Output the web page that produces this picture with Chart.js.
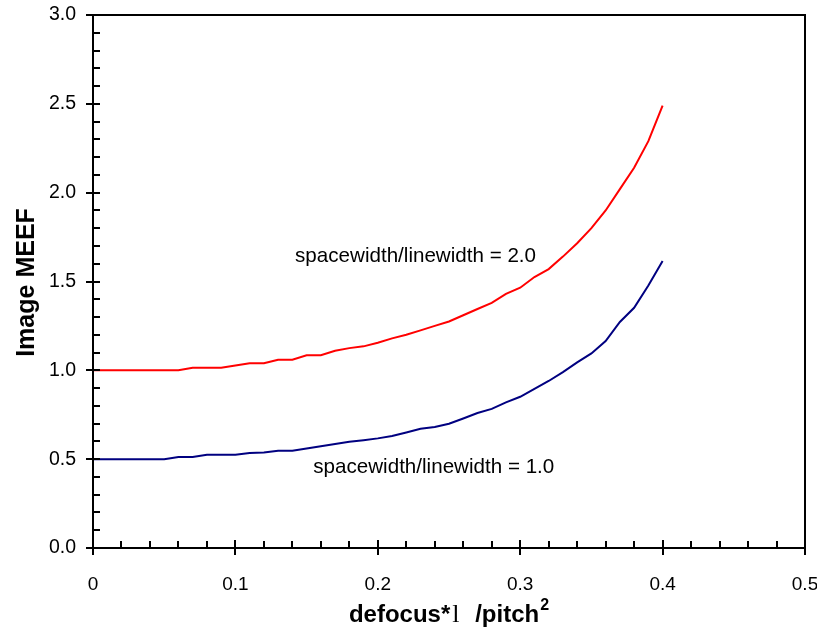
<!DOCTYPE html>
<html>
<head>
<meta charset="utf-8">
<title>Image MEEF vs defocus</title>
<script src="https://cdn.jsdelivr.net/npm/chart.js@4/dist/chart.umd.min.js"></script>
<style>
  html, body { margin: 0; padding: 0; background: #ffffff; }
  #wrap { width: 817px; height: 641px; }
</style>
</head>
<body>
<div id="wrap"><canvas id="chart" width="817" height="641"></canvas></div>
<script>
// defocus*lambda/pitch^2 sample positions
const defocus = [
  0.00, 0.01, 0.02, 0.03, 0.04, 0.05, 0.06, 0.07, 0.08, 0.09,
  0.10, 0.11, 0.12, 0.13, 0.14, 0.15, 0.16, 0.17, 0.18, 0.19,
  0.20, 0.21, 0.22, 0.23, 0.24, 0.25, 0.26, 0.27, 0.28, 0.29,
  0.30, 0.31, 0.32, 0.33, 0.34, 0.35, 0.36, 0.37, 0.38, 0.39, 0.40
];

// image MEEF, spacewidth/linewidth = 2.0
const meefRatio2 = [
  1.00, 1.00, 1.00, 1.00, 1.00, 1.00, 1.00, 1.015, 1.015, 1.015,
  1.027, 1.04, 1.04, 1.06, 1.06, 1.085, 1.085, 1.11, 1.125, 1.135,
  1.155, 1.18, 1.20, 1.225, 1.25, 1.275, 1.31, 1.345, 1.38, 1.43,
  1.465, 1.525, 1.57, 1.64, 1.715, 1.80, 1.90, 2.02, 2.14, 2.29, 2.49
];

// image MEEF, spacewidth/linewidth = 1.0
const meefRatio1 = [
  0.50, 0.50, 0.50, 0.50, 0.50, 0.50, 0.512, 0.512, 0.525, 0.525,
  0.525, 0.535, 0.537, 0.547, 0.547, 0.56, 0.573, 0.585, 0.598, 0.607,
  0.617, 0.63, 0.65, 0.671, 0.681, 0.699, 0.729, 0.76, 0.783, 0.82,
  0.851, 0.895, 0.94, 0.99, 1.045, 1.095, 1.165, 1.272, 1.352, 1.477, 1.615
];

const seriesLabels = ['spacewidth/linewidth = 2.0', 'spacewidth/linewidth = 1.0'];
const seriesColors = ['#ff0000', '#000080'];

const xTickLabels = ['0', '0.1', '0.2', '0.3', '0.4', '0.5'];
const yTickLabels = ['0.0', '0.5', '1.0', '1.5', '2.0', '2.5', '3.0'];

const SANS = '"Liberation Sans", Arial, Helvetica, sans-serif';
const SERIF = '"Liberation Serif", "Times New Roman", serif';

function toPoints(xs, ys) {
  return xs.map((x, i) => ({ x: x, y: ys[i] }));
}

// Axis frame, crossing major ticks, inward minor ticks, titles and curve labels
const framePlugin = {
  id: 'frame',
  afterDatasetsDraw(chart, args, opts) {
    const ctx = chart.ctx;
    const xs = chart.scales.x;
    const ys = chart.scales.y;
    const a = chart.chartArea;
    ctx.save();
    ctx.strokeStyle = '#000';
    ctx.lineWidth = 2;
    ctx.lineCap = 'butt';

    // frame
    ctx.beginPath();
    ctx.moveTo(a.left, a.top);
    ctx.lineTo(a.right, a.top);
    ctx.lineTo(a.right, a.bottom);
    ctx.lineTo(a.left, a.bottom);
    ctx.closePath();
    ctx.stroke();

    // x ticks: minor every 0.02, major every 0.1
    ctx.beginPath();
    for (let k = 0; k <= 25; k++) {
      const px = Math.round(xs.getPixelForValue(k * 0.02));
      if (k % 5 === 0) {
        ctx.moveTo(px, a.bottom - 8);
        ctx.lineTo(px, a.bottom + 7);
      } else {
        ctx.moveTo(px, a.bottom - 7);
        ctx.lineTo(px, a.bottom);
      }
    }
    // y ticks: minor every 0.1, major every 0.5
    for (let k = 0; k <= 30; k++) {
      const py = Math.round(ys.getPixelForValue(k * 0.1));
      if (k % 5 === 0) {
        ctx.moveTo(a.left - 7, py);
        ctx.lineTo(a.left + 7, py);
      } else {
        ctx.moveTo(a.left, py);
        ctx.lineTo(a.left + 7, py);
      }
    }
    ctx.stroke();

    // y axis title
    ctx.fillStyle = '#000';
    ctx.font = 'bold 25px ' + SANS;
    ctx.textAlign = 'center';
    ctx.textBaseline = 'middle';
    ctx.translate(27, (a.top + a.bottom) / 2 + 1);
    ctx.rotate(-Math.PI / 2);
    ctx.fillText('Image MEEF', 0, 0);
    ctx.setTransform(1, 0, 0, 1, 0, 0);

    // x axis title: defocus*λ/pitch² (lambda set in the serif face)
    const pieces = [
      { t: 'defocus*', f: 'bold 24px ' + SANS, dy: 0, gap: 2 },
      { t: 'l', f: '26px ' + SERIF, dy: 0, gap: 9 },
      { t: ' /pitch', f: 'bold 24px ' + SANS, dy: 0, gap: 1 },
      { t: '2', f: 'bold 16px ' + SANS, dy: -12, gap: 0 }
    ];
    let total = 0;
    pieces.forEach(p => { ctx.font = p.f; p.w = ctx.measureText(p.t).width; total += p.w + p.gap; });
    let cx = (a.left + a.right) / 2 - total / 2;
    const base = 622;
    ctx.textAlign = 'left';
    ctx.textBaseline = 'alphabetic';
    pieces.forEach(p => {
      ctx.font = p.f;
      ctx.fillText(p.t, cx, base + p.dy);
      cx += p.w + p.gap;
    });

    // curve labels, anchored in data units
    ctx.font = '20.6px ' + SANS;
    (opts.labels || []).forEach(l => {
      ctx.fillText(l.text, xs.getPixelForValue(l.x), ys.getPixelForValue(l.y));
    });
    ctx.restore();
  }
};

new Chart(document.getElementById('chart'), {
  type: 'line',
  data: {
    datasets: [
      {
        label: seriesLabels[0],
        data: toPoints(defocus, meefRatio2),
        borderColor: seriesColors[0],
        backgroundColor: seriesColors[0],
        borderWidth: 2,
        pointRadius: 0,
        tension: 0,
        fill: false
      },
      {
        label: seriesLabels[1],
        data: toPoints(defocus, meefRatio1),
        borderColor: seriesColors[1],
        backgroundColor: seriesColors[1],
        borderWidth: 2,
        pointRadius: 0,
        tension: 0,
        fill: false
      }
    ]
  },
  options: {
    responsive: false,
    animation: false,
    events: [],
    layout: { padding: { left: 0, top: 15, right: 12, bottom: 0 } },
    plugins: {
      legend: { display: false },
      tooltip: { enabled: false },
      title: { display: false },
      frame: {
        labels: [
          { text: seriesLabels[0], x: 0.1419, y: 1.612 },
          { text: seriesLabels[1], x: 0.1547, y: 0.42 }
        ]
      }
    },
    scales: {
      x: {
        type: 'linear',
        min: 0,
        max: 0.5,
        border: { display: false },
        grid: { display: false, drawTicks: false },
        ticks: {
          stepSize: 0.1,
          padding: 25,
          color: '#000',
          font: { family: SANS, size: 19 },
          maxRotation: 0,
          callback: (v) => xTickLabels[Math.round(v * 10)]
        },
        afterFit: (s) => { s.height = 93; s.paddingLeft = 0; s.paddingRight = 0; }
      },
      y: {
        type: 'linear',
        min: 0,
        max: 3,
        border: { display: false },
        grid: { display: false, drawTicks: false },
        ticks: {
          stepSize: 0.5,
          padding: 17,
          color: '#000',
          font: { family: SANS, size: 19.5 },
          callback: (v) => yTickLabels[Math.round(v * 2)]
        },
        afterFit: (s) => { s.width = 93; s.paddingTop = 0; s.paddingBottom = 0; }
      }
    }
  },
  plugins: [framePlugin]
});
</script>
</body>
</html>
